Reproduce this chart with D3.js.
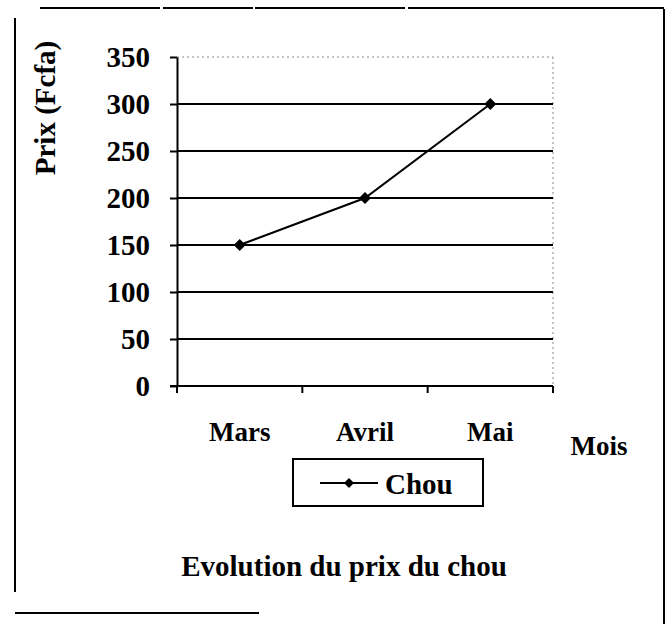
<!DOCTYPE html>
<html>
<head>
<meta charset="utf-8">
<script src="https://cdn.jsdelivr.net/npm/d3@7"></script>
<style>
  html, body { margin: 0; padding: 0; background: #fff; overflow: hidden; }
  svg { display: block; }
  svg text { font-family: "Liberation Serif", "Times New Roman", serif; font-weight: bold; fill: #000; }
</style>
</head>
<body>
<svg id="chart" width="672" height="624" viewBox="0 0 672 624"></svg>
<script>
// data
var months = ["Mars", "Avril", "Mai"];
var prices = [150, 200, 300];
var yTicks = [0, 50, 100, 150, 200, 250, 300, 350];
var seriesName = "Chou";

function drawChart() {
  var svg = d3.select("#chart");
  var left = 177, right = 553, top = 57, bottom = 386;

  var x = d3.scaleBand().domain(months).range([left, right]).paddingInner(0).paddingOuter(0);
  var y = d3.scaleLinear().domain([0, 350]).range([bottom, top]);

  // outer frame (scanned page edges)
  var frame = svg.append("g").attr("class", "frame").attr("fill", "none").attr("stroke", "#000");
  frame.append("path").attr("d", "M40,8H160M163,8H253M255,8H405M408,8H664")
    .attr("stroke-width", 2);
  frame.append("path").attr("d", "M15,18V592").attr("stroke-width", 2);
  frame.append("path").attr("d", "M664,9V624").attr("stroke-width", 2);
  frame.append("path").attr("d", "M15,613H259").attr("stroke-width", 2);

  // plot border: faint dotted top and right
  svg.append("line").attr("x1", left).attr("y1", y(350)).attr("x2", right).attr("y2", y(350))
    .attr("stroke", "#888").attr("stroke-width", 1).attr("stroke-dasharray", "2,3");
  svg.append("line").attr("x1", right).attr("y1", y(350)).attr("x2", right).attr("y2", bottom)
    .attr("stroke", "#888").attr("stroke-width", 1).attr("stroke-dasharray", "2,3");

  // gridlines
  svg.append("g").selectAll("line")
    .data(yTicks.filter(function(d) { return d > 0 && d < 350; }))
    .enter().append("line")
    .attr("x1", left).attr("x2", right)
    .attr("y1", function(d) { return y(d); })
    .attr("y2", function(d) { return y(d); })
    .attr("stroke", "#000").attr("stroke-width", 2);

  // y axis
  var yAxis = d3.axisLeft(y).tickValues(yTicks).tickSize(7).tickSizeOuter(0).tickPadding(20);
  var gy = svg.append("g").attr("transform", "translate(" + left + ",0)").call(yAxis);
  gy.select(".domain").attr("stroke-width", 2);
  gy.selectAll(".tick line").attr("stroke-width", 2);
  gy.selectAll("text").attr("font-size", 29).attr("font-family", "Liberation Serif").attr("font-weight", "bold");

  // x axis
  svg.append("line").attr("x1", left - 7).attr("y1", bottom).attr("x2", right).attr("y2", bottom)
    .attr("stroke", "#000").attr("stroke-width", 2);
  svg.append("g").selectAll("line")
    .data(months.concat(["end"]))
    .enter().append("line")
    .attr("x1", function(d) { return d == "end" ? right : x(d); })
    .attr("x2", function(d) { return d == "end" ? right : x(d); })
    .attr("y1", bottom).attr("y2", bottom + 7)
    .attr("stroke", "#000").attr("stroke-width", 2);
  svg.append("g").selectAll("text")
    .data(months)
    .enter().append("text")
    .attr("x", function(d) { return x(d) + x.bandwidth() / 2; })
    .attr("y", 441)
    .attr("text-anchor", "middle")
    .attr("font-size", 27)
    .text(function(d) { return d; });

  // axis titles
  svg.append("text").attr("x", 599).attr("y", 455).attr("text-anchor", "middle")
    .attr("font-size", 27).text("Mois");
  svg.append("text").attr("transform", "translate(55,108) rotate(-90)")
    .attr("text-anchor", "middle").attr("font-size", 29).text("Prix (Fcfa)");

  // series line
  var pts = months.map(function(m, i) { return [x(m) + x.bandwidth() / 2, y(prices[i])]; });
  svg.append("path").attr("d", d3.line()(pts))
    .attr("fill", "none").attr("stroke", "#000").attr("stroke-width", 2);
  svg.append("g").selectAll("path")
    .data(pts).enter().append("path")
    .attr("d", d3.symbol().type(d3.symbolSquare).size(72))
    .attr("transform", function(d) { return "translate(" + d[0] + "," + d[1] + ") rotate(45)"; })
    .attr("fill", "#000");

  // legend
  var lg = svg.append("g").attr("transform", "translate(293,459)");
  lg.append("rect").attr("width", 190).attr("height", 47)
    .attr("fill", "none").attr("stroke", "#000").attr("stroke-width", 2);
  lg.append("line").attr("x1", 27).attr("x2", 85).attr("y1", 24).attr("y2", 24)
    .attr("stroke", "#000").attr("stroke-width", 2);
  lg.append("path").attr("d", d3.symbol().type(d3.symbolSquare).size(50))
    .attr("transform", "translate(56,24) rotate(45)").attr("fill", "#000");
  lg.append("text").attr("x", 92).attr("y", 35).attr("font-size", 29).text(seriesName);

  // chart title
  svg.append("text").attr("x", 344).attr("y", 576).attr("text-anchor", "middle")
    .attr("font-size", 29).text("Evolution du prix du chou");
}

drawChart();
</script>
</body>
</html>
